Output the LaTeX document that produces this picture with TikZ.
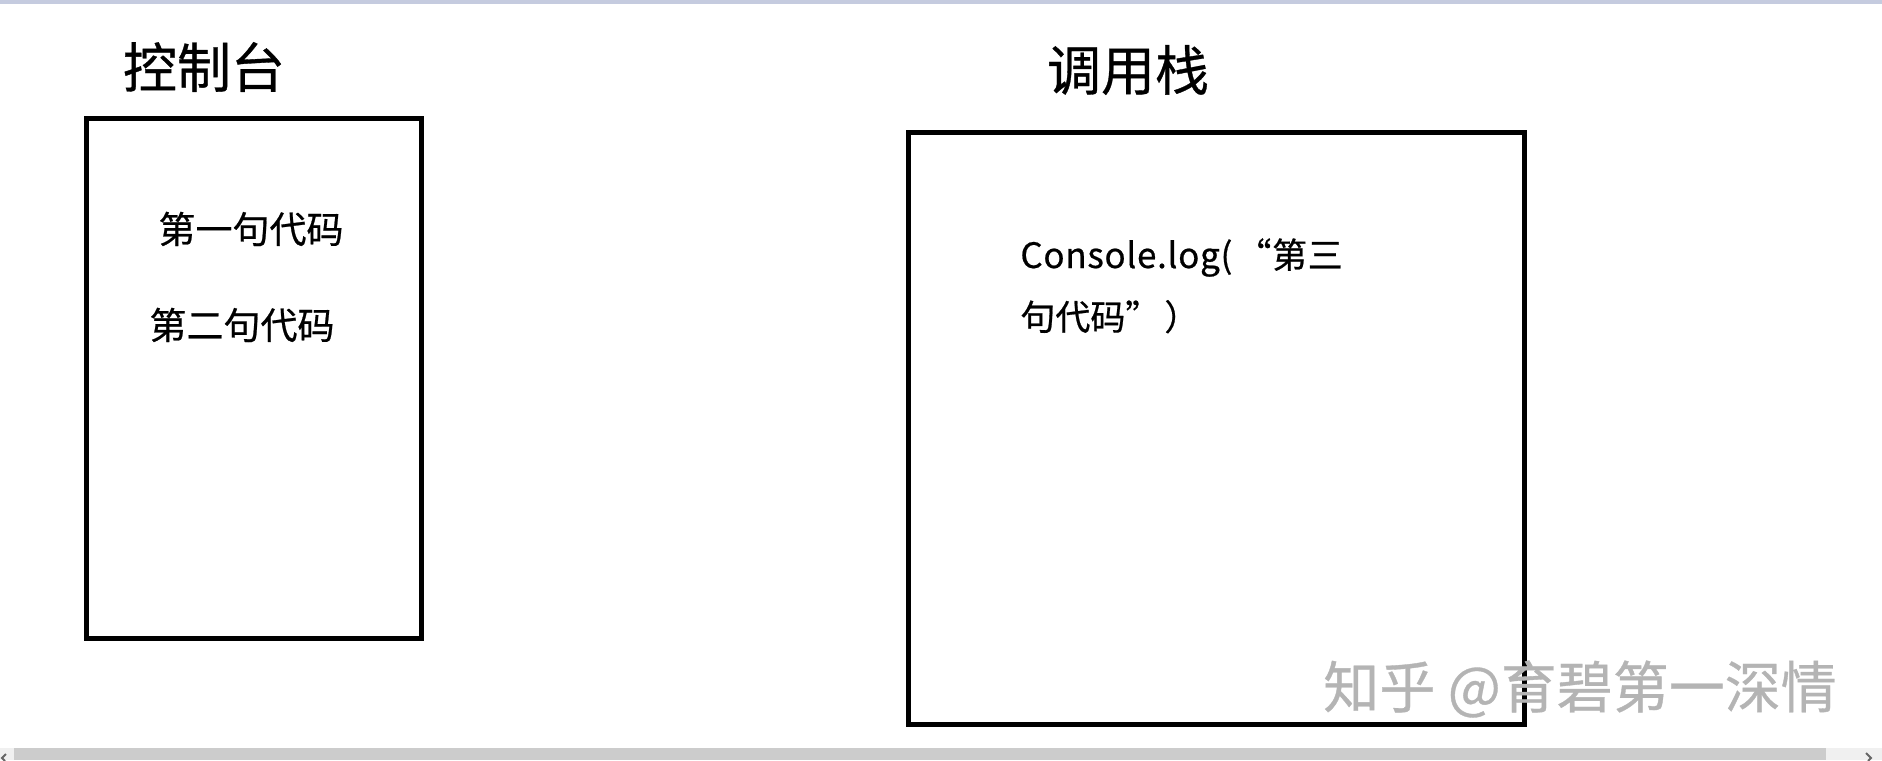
\documentclass[tikz,border=0pt]{standalone}
\usepackage{fontspec}
\newfontfamily\cjk{Noto Sans CJK SC}[FakeBold=0.6]
\usepackage{tikz}
\usetikzlibrary{positioning}
\definecolor{topband}{HTML}{C5CBDF}
\definecolor{barGray}{HTML}{CCCCCC}
\definecolor{barLight}{HTML}{F0F0F0}
\definecolor{markGray}{HTML}{B4B4B4}

\begin{document}
\begin{tikzpicture}[
    x=0.5pt, y=-0.5pt,
    panel/.style={draw=black, line width=2.5pt, fill=white, inner sep=0pt},
    title/.style={font=\cjk\fontsize{27pt}{32pt}\selectfont, inner sep=0pt},
    codeline/.style={font=\cjk\fontsize{18.5pt}{22pt}\selectfont, inner sep=0pt},
    logline/.style={font=\cjk\fontsize{17.5pt}{21pt}\selectfont, inner sep=0pt,
                    anchor=base west},
    wmark/.style={font=\cjk\fontsize{28pt}{32pt}\selectfont, text=markGray,
                  inner sep=0pt},
]
\useasboundingbox[fill=white] (0,0) rectangle (1882,760);

% window edges
\fill[topband] (0,0) rectangle (1882,4);
\fill[barLight] (0,748) rectangle (14,760);
\fill[barGray] (14,748) rectangle (1826,760);
\fill[barLight] (1826,748) rectangle (1882,760);
\draw[gray!80!black, line width=1pt] (6,754) -- (2,758) -- (5,761);
\draw[gray!80!black, line width=1pt] (1866,753) -- (1871,758) -- (1868,761);

% console
\node[panel, minimum width=167.5pt, minimum height=260pt] (console)
    at (254,378.5) {};
\node[title] (contitle) at (204,67) {控制台};
\node[codeline] (first) at (251,229) {第一句代码};
\node[codeline] (second) at (242,325) {第二句代码};

% call stack
\node[panel, minimum width=308pt, minimum height=296pt] (stack)
    at (1216.5,428.5) {};
\node[title] (stacktitle) at (1128,70) {调用栈};
\node[logline] (logA) at (1020,268)
    {\addfontfeature{LetterSpace=2}Console.log(\hspace{2pt}“第三};
\node[logline] (logB) at (1020,330) {句代码”\hspace{2pt}）};

% watermark
\node[wmark] (zhihu) at (1580,689) {知乎 @育碧第一深情};

\end{tikzpicture}
\end{document}
